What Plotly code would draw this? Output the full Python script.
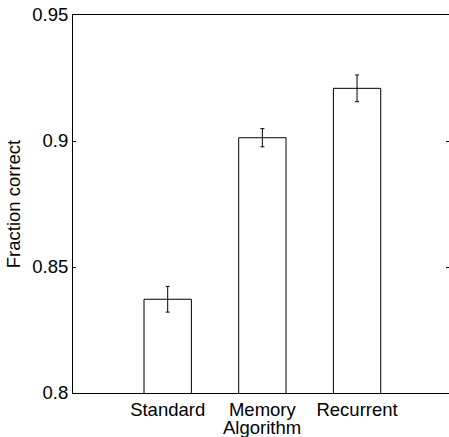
import plotly.graph_objects as go

categories = ["Standard", "Memory<br>Algorithm", "Recurrent"]
positions = [1, 2, 3]
values = [0.8372, 0.9013, 0.9209]
errors = [0.0051, 0.0036, 0.0053]
y_ticks = [0.8, 0.85, 0.9, 0.95]
y_tick_text = ["0.8", "0.85", "0.9", "0.95"]

FONT = "Liberation Sans, Arial, Helvetica, sans-serif"
FS = 18.5

first_lines = [c.split("<br>")[0] for c in categories]
second_lines = [(p, c.split("<br>")[1]) for p, c in zip(positions, categories) if "<br>" in c]

fig = go.Figure()
fig.add_trace(go.Bar(
    x=positions, y=values, width=0.5,
    marker=dict(color="white", line=dict(color="black", width=1)),
    error_y=dict(type="data", array=errors, visible=True,
                 color="black", thickness=1, width=2),
    showlegend=False,
))
# invisible trace to carry the right-hand mirrored ticks
fig.add_trace(go.Scatter(x=[None], y=[None], yaxis="y2", showlegend=False,
                         hoverinfo="skip"))

annotations = [
    dict(x=p, y=0, xref="x", yref="paper", text=t, showarrow=False,
         xanchor="center", yanchor="top", yshift=-23, borderpad=0,
         font=dict(family=FONT, size=FS, color="black"))
    for p, t in second_lines
]

fig.update_layout(
    width=449, height=437,
    margin=dict(l=73, r=0, t=15, b=44, pad=0, autoexpand=False),
    plot_bgcolor="white", paper_bgcolor="white",
    font=dict(family=FONT, size=FS, color="black"),
    annotations=annotations,
    xaxis=dict(
        range=[0, 3.971], tickvals=positions, ticktext=first_lines,
        showline=True, linecolor="black", linewidth=1, mirror=True,
        ticks="", showgrid=False, zeroline=False, automargin=False,
        tickfont=dict(family=FONT, size=FS, color="black"),
    ),
    yaxis=dict(
        range=[0.8, 0.95], tickvals=y_ticks, ticktext=y_tick_text,
        showline=True, linecolor="black", linewidth=1, mirror=False,
        ticks="inside", ticklen=3, tickcolor="black",
        showgrid=False, zeroline=False, automargin=False,
        tickfont=dict(family=FONT, size=FS, color="black"),
        title=dict(text="Fraction correct",
                   font=dict(family=FONT, size=FS, color="black"),
                   standoff=6),
    ),
    yaxis2=dict(
        range=[0.8, 0.95], tickvals=y_ticks, overlaying="y", side="right",
        showline=False, ticks="inside", ticklen=3, tickcolor="black",
        showticklabels=False, showgrid=False, zeroline=False,
        automargin=False,
    ),
)

fig.write_html("out.html")
